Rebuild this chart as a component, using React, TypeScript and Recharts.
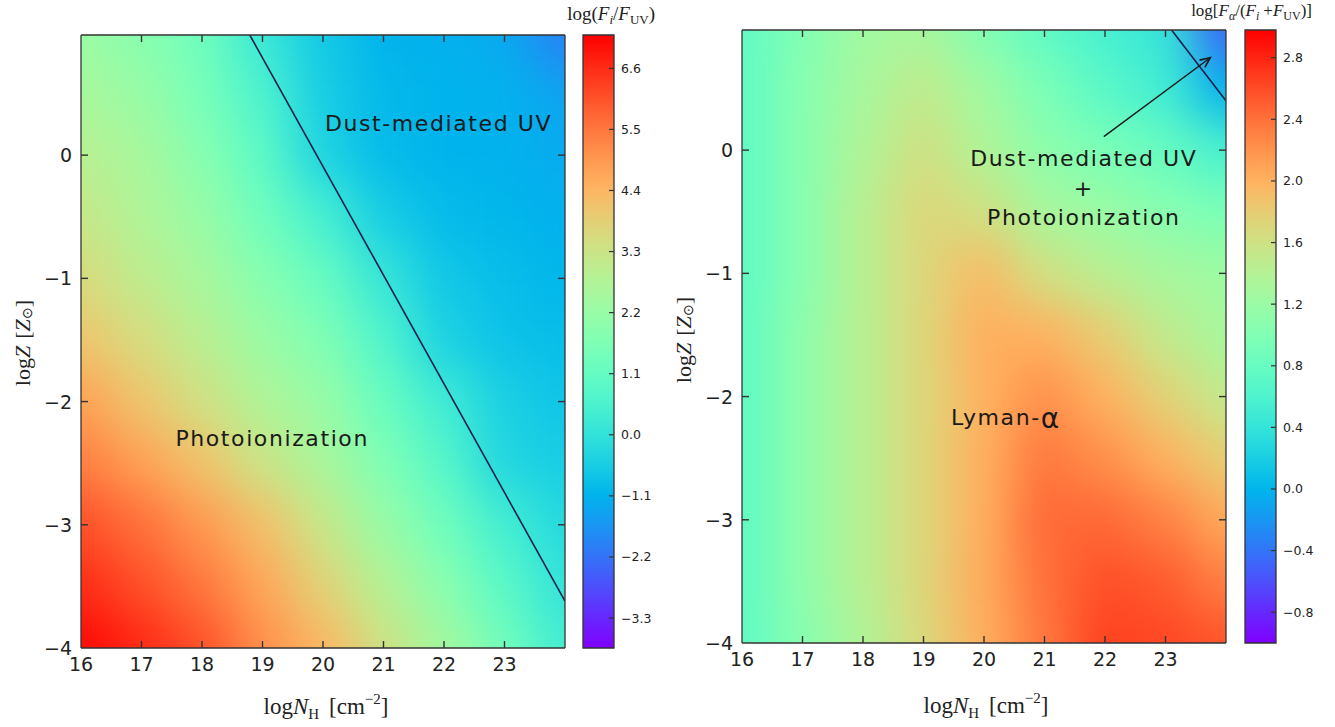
import React from "react";
import {
  ReferenceArea,
  ReferenceDot,
  ReferenceLine,
  Scatter,
  ScatterChart,
  XAxis,
  YAxis,
} from "recharts";

// grid nodes: log N_H columns, log Z rows (top row first)
const NH_NODES = [16, 17, 18, 19, 20, 21, 22, 23, 24];
const Z_NODES = [1, 0.5, 0, -0.5, -1, -1.5, -2, -2.5, -3, -3.5, -4];

// log(F_i / F_UV), one row per Z_NODES entry
const IONIZING_TO_UV = [
  [2.3, 1.85, 1.35, 0.15, -0.65, -1.1, -1.15, -1.3, -2.0],
  [2.56, 2.2, 1.5, 0.6, -0.55, -1.0, -1.1, -1.15, -1.4],
  [2.9, 2.56, 1.85, 0.95, -0.4, -0.95, -1.1, -1.12, -1.25],
  [3.23, 2.73, 2.2, 1.35, 0.45, -0.56, -0.95, -1.05, -1.15],
  [3.6, 3.06, 2.56, 1.85, 1.18, 0.1, -0.7, -0.9, -1.05],
  [4.1, 3.55, 2.95, 2.3, 1.7, 0.7, -0.45, -0.8, -0.9],
  [4.8, 4.1, 3.42, 2.73, 2.2, 1.2, 0.3, -0.5, -0.75],
  [5.4, 4.8, 4.15, 3.3, 2.6, 1.7, 0.8, -0.35, -0.55],
  [6.1, 5.6, 4.94, 4.2, 3.23, 2.2, 1.35, 0.4, -0.3],
  [6.6, 6.1, 5.5, 4.7, 3.8, 2.85, 1.9, 0.9, 0.0],
  [7.1, 6.65, 6.1, 5.1, 4.4, 3.4, 2.5, 1.4, 0.35],
];

// log[F_alpha / (F_i + F_UV)]
const LYA_TO_TOTAL = [
  [0.75, 1.0, 1.25, 1.3, 1.0, 0.74, 0.55, 0.4, -0.5],
  [0.74, 1.05, 1.3, 1.5, 1.25, 0.95, 0.7, 0.5, -0.05],
  [0.74, 1.05, 1.37, 1.62, 1.37, 1.1, 0.95, 0.8, 0.55],
  [0.74, 1.05, 1.43, 1.72, 1.62, 1.3, 1.2, 1.05, 0.95],
  [0.74, 1.05, 1.43, 1.72, 1.93, 1.62, 1.43, 1.3, 1.22],
  [0.74, 1.1, 1.43, 1.72, 2.02, 2.0, 1.8, 1.5, 1.3],
  [0.74, 1.1, 1.43, 1.72, 2.0, 2.22, 2.0, 1.75, 1.5],
  [0.74, 1.1, 1.43, 1.72, 2.02, 2.36, 2.22, 2.0, 1.78],
  [0.74, 1.1, 1.43, 1.72, 2.02, 2.44, 2.44, 2.3, 2.05],
  [0.74, 1.1, 1.43, 1.72, 2.05, 2.4, 2.58, 2.52, 2.3],
  [0.74, 1.05, 1.37, 1.7, 2.02, 2.36, 2.66, 2.62, 2.55],
];

const NH_DOMAIN = [16, 24];
const Z_DOMAIN = [-4, 0.975];
const NH_TICKS = [16, 17, 18, 19, 20, 21, 22, 23];
const Z_TICKS = [-4, -3, -2, -1, 0];

const CB_LEFT_RANGE = [-3.84, 7.2];
const CB_LEFT_TICKS = [-3.3, -2.2, -1.1, 0, 1.1, 2.2, 3.3, 4.4, 5.5, 6.6];
const CB_RIGHT_RANGE = [-1.0, 2.98];
const CB_RIGHT_TICKS = [-0.8, -0.4, 0, 0.4, 0.8, 1.2, 1.6, 2.0, 2.4, 2.8];

const BOUNDARY_LEFT = [{ x: 18.79, y: 0.975 }, { x: 24, y: -3.62 }];
const BOUNDARY_RIGHT = [{ x: 23.1, y: 0.975 }, { x: 24, y: 0.4 }];
const ARROW_RIGHT = [{ x: 21.98, y: 0.11 }, { x: 23.74, y: 0.75 }];

const NOTES_LEFT = [
  { x: 21.91, y: 0.26, text: "Dust-mediated UV" },
  { x: 19.16, y: -2.3, text: "Photoionization" },
];
const NOTES_RIGHT = [
  { x: 21.65, y: -0.065, text: "Dust-mediated UV" },
  { x: 21.65, y: -0.31, text: "+" },
  { x: 21.65, y: -0.55, text: "Photoionization" },
  { x: 20.35, y: -2.17, text: "Lyman-α" },
];

const PLOT_W = 484;
const PLOT_H = 613;
const CB_W = 31;
const FRAME = "#333";
const INK = "#1a1a1a";
const TICK_LEN = 7;
const TICK_GAP = 9;

// matplotlib "rainbow" colormap
const rainbow = (t: number) => {
  const c = Math.min(1, Math.max(0, t));
  const r = Math.min(1, Math.abs(2 * c - 0.5));
  const g = Math.sin(Math.PI * c);
  const b = Math.cos((Math.PI * c) / 2);
  const h = (u: number) =>
    Math.round(Math.max(0, Math.min(1, u)) * 255)
      .toString(16)
      .padStart(2, "0");
  return `#${h(r)}${h(g)}${h(b)}`;
};

const buildCells = (grid: number[][]) =>
  Z_NODES.flatMap((z, i) => NH_NODES.map((nh, j) => ({ nh, z, v: grid[i][j] })));

const minus = (s: string) => s.replace("-", "\u2212");

const pxX = PLOT_W / (NH_DOMAIN[1] - NH_DOMAIN[0]);
const pxZ = PLOT_H / (Z_DOMAIN[1] - Z_DOMAIN[0]);
const cellW = pxX;
const cellH = pxZ * 0.5;

// inward tick marks on all four sides, in data units
const tickSegments = () => {
  const dz = TICK_LEN / pxZ;
  const dx = TICK_LEN / pxX;
  const [x0, x1] = NH_DOMAIN;
  const [z0, z1] = Z_DOMAIN;
  return [
    ...NH_TICKS.slice(1).flatMap((t) => [
      [{ x: t, y: z0 }, { x: t, y: z0 + dz }],
      [{ x: t, y: z1 }, { x: t, y: z1 - dz }],
    ]),
    ...Z_TICKS.slice(1).flatMap((t) => [
      [{ x: x0, y: t }, { x: x0 + dx, y: t }],
      [{ x: x1, y: t }, { x: x1 - dx, y: t }],
    ]),
  ];
};

const heatShape = (range: number[]) => (p: any) => {
  const v = p.payload ? p.payload.v : p.v;
  return (
    <rect
      x={p.cx - cellW / 2 - 0.5}
      y={p.cy - cellH / 2 - 0.5}
      width={cellW + 1}
      height={cellH + 1}
      fill={rainbow((v - range[0]) / (range[1] - range[0]))}
    />
  );
};

const arrowShape = (p: any) => {
  const { x1, y1, x2, y2 } = p;
  const a = Math.atan2(y2 - y1, x2 - x1);
  const L = 11;
  const w = 0.42;
  const h1 = `${x2 - L * Math.cos(a - w)},${y2 - L * Math.sin(a - w)}`;
  const h2 = `${x2 - L * Math.cos(a + w)},${y2 - L * Math.sin(a + w)}`;
  return (
    <g>
      <line x1={x1} y1={y1} x2={x2} y2={y2} stroke={INK} strokeWidth={1.4} />
      <polyline points={`${h1} ${x2},${y2} ${h2}`} fill="none" stroke={INK} strokeWidth={1.6} />
    </g>
  );
};

function NoteText({ vb, text }: { vb: any; text: string }) {
  const cx = vb.x + (vb.width || 0) / 2;
  const cy = vb.y + (vb.height || 0) / 2;
  const greek = text.endsWith("α");
  return (
    <text
      x={cx}
      y={cy}
      textAnchor="middle"
      dominantBaseline="central"
      fontFamily="DejaVu Sans"
      fontSize={22}
      letterSpacing={1.6}
      fill={INK}
    >
      {greek ? text.slice(0, -1) : text}
      {greek && (
        <tspan fontSize={28} letterSpacing={0}>
          α
        </tspan>
      )}
    </text>
  );
}

const tickFont = { fill: "#222", fontSize: 19, fontFamily: "DejaVu Sans" };

const BottomTick = (p: any) => (
  <text x={p.x} y={p.y + 14} textAnchor="middle" {...tickFont}>
    {p.payload.value}
  </text>
);
const LeftTick = (p: any) => (
  <text x={p.x} y={p.y} textAnchor="end" dominantBaseline="central" {...tickFont}>
    {minus(String(p.payload.value))}
  </text>
);
const BarTick = (p: any) => (
  <text x={p.x} y={p.y} dominantBaseline="central" fill="#222" fontSize={12.5} fontFamily="DejaVu Sans">
    {minus(p.payload.value.toFixed(1))}
  </text>
);

// the four axes of one panel; "bare" keeps the layout but draws nothing
function panelAxes(bare: boolean) {
  const show = !bare;
  const common = {
    type: "number" as const,
    allowDataOverflow: true,
    interval: 0,
    tickLine: false,
    stroke: FRAME,
    strokeWidth: 1.3,
    axisLine: show,
  };
  return [
    <XAxis key="b" {...common} dataKey="nh" domain={NH_DOMAIN} ticks={NH_TICKS} height={60}
      tickSize={0} tickMargin={TICK_GAP} tick={show ? BottomTick : false} />,
    <XAxis key="t" {...common} xAxisId="top" orientation="top" dataKey="nh" domain={NH_DOMAIN}
      ticks={NH_TICKS} height={1} tickSize={0} tick={false} />,
    <YAxis key="l" {...common} dataKey="z" domain={Z_DOMAIN} ticks={Z_TICKS} width={60}
      tickSize={0} tickMargin={TICK_GAP} tick={show ? LeftTick : false} />,
    <YAxis key="r" {...common} yAxisId="right" orientation="right" dataKey="z" domain={Z_DOMAIN}
      ticks={Z_TICKS} width={1} tickSize={0} tick={false} />,
  ];
}

function HeatPanel({
  left,
  top,
  grid,
  range,
  boundary,
  arrow,
  notes,
}: {
  left: number;
  top: number;
  grid: number[][];
  range: number[];
  boundary: { x: number; y: number }[];
  arrow?: { x: number; y: number }[];
  notes: { x: number; y: number; text: string }[];
}) {
  const cells = buildCells(grid);
  const margin = { top: top - 1, right: 1, left: 21, bottom: 727 - top - PLOT_H - 60 };
  return (
    <>
      <div style={{ position: "absolute", left, top: 0 }}>
        <ScatterChart width={567} height={727} margin={margin}>
          <Scatter
            data={cells}
            className="heat-layer"
            shape={heatShape(range)}
            isAnimationActive={false}
          />
          {panelAxes(true)}
        </ScatterChart>
      </div>
      <div style={{ position: "absolute", left, top: 0 }}>
        <ScatterChart width={567} height={727} margin={margin}>
          <Scatter data={cells} shape={() => <g />} isAnimationActive={false} />
          {panelAxes(false)}
          {tickSegments().map((seg, i) => (
            <ReferenceLine key={`tk${i}`} segment={seg} stroke={FRAME} strokeWidth={1.4} ifOverflow="visible" />
          ))}
          <ReferenceLine
            segment={boundary}
            stroke="#15214a"
            strokeWidth={1.6}
            ifOverflow="hidden"
          />
          {arrow && <ReferenceLine segment={arrow} shape={arrowShape} ifOverflow="visible" />}
          {notes.map((n) => (
            <ReferenceDot
              key={n.text + n.y}
              x={n.x}
              y={n.y}
              r={1}
              fill="none"
              stroke="none"
              label={{ content: (p: any) => <NoteText vb={p.viewBox} text={n.text} /> }}
            />
          ))}
        </ScatterChart>
      </div>
    </>
  );
}

function ColorBar({
  left,
  top,
  range,
  ticks,
  gradId,
}: {
  left: number;
  top: number;
  range: number[];
  ticks: number[];
  gradId: string;
}) {
  const inset = 1 - 5 / CB_W;
  return (
    <div style={{ position: "absolute", left: left - 53, top: 0 }}>
      <ScatterChart
        width={140}
        height={727}
        margin={{ top, right: 7, left: 53, bottom: 727 - top - PLOT_H }}
      >
        <XAxis type="number" dataKey="u" domain={[0, 1]} allowDataOverflow hide />
        <YAxis
          orientation="right"
          type="number"
          dataKey="v"
          domain={range}
          allowDataOverflow
          ticks={ticks}
          interval={0}
          width={49}
          axisLine={false}
          tickSize={0}
          tickMargin={7}
          tickLine={false}
          tick={BarTick}
        />
        <Scatter data={[{ u: 0.5, v: range[0] }]} shape={() => <g />} isAnimationActive={false} />
        <ReferenceArea
          x1={0}
          x2={1}
          y1={range[0]}
          y2={range[1]}
          fill={`url(#${gradId})`}
          fillOpacity={1}
          stroke={FRAME}
          strokeWidth={1.3}
          ifOverflow="visible"
        />
        {ticks.map((t) => (
          <ReferenceLine
            key={t}
            segment={[{ x: inset, y: t }, { x: 1, y: t }]}
            stroke={FRAME}
            strokeWidth={1.2}
            ifOverflow="visible"
          />
        ))}
      </ScatterChart>
    </div>
  );
}

const STOPS = Array.from({ length: 21 }, (_, i) => i / 20);

export default function App() {
  const serif = "Liberation Serif";
  return (
    <div
      style={{
        position: "absolute",
        left: 0,
        top: 0,
        width: 1335,
        height: 727,
        background: "#fff",
        overflow: "hidden",
      }}
    >
      <style>{`.heat-layer { filter: url(#heatBlur); }`}</style>
      <svg width={0} height={0} style={{ position: "absolute" }}>
        <defs>
          <filter
            id="heatBlur"
            x="-20%"
            y="-20%"
            width="140%"
            height="140%"
            colorInterpolationFilters="sRGB"
          >
            <feGaussianBlur stdDeviation={23} />
            <feComponentTransfer>
              <feFuncA type="table" tableValues="1 1" />
            </feComponentTransfer>
          </filter>
          {["cbLeft", "cbRight"].map((id) => (
            <linearGradient key={id} id={id} x1="0" y1="1" x2="0" y2="0">
              {STOPS.map((s) => (
                <stop key={s} offset={s} stopColor={rainbow(s)} />
              ))}
            </linearGradient>
          ))}
        </defs>
      </svg>

      <HeatPanel
        left={0}
        top={35}
        grid={IONIZING_TO_UV}
        range={CB_LEFT_RANGE}
        boundary={BOUNDARY_LEFT}
        notes={NOTES_LEFT}
      />
      <ColorBar left={583} top={35} range={CB_LEFT_RANGE} ticks={CB_LEFT_TICKS} gradId="cbLeft" />

      <HeatPanel
        left={661}
        top={30}
        grid={LYA_TO_TOTAL}
        range={CB_RIGHT_RANGE}
        boundary={BOUNDARY_RIGHT}
        arrow={ARROW_RIGHT}
        notes={NOTES_RIGHT}
      />
      <ColorBar left={1245} top={30} range={CB_RIGHT_RANGE} ticks={CB_RIGHT_TICKS} gradId="cbRight" />

      <svg
        width={1335}
        height={727}
        style={{ position: "absolute", left: 0, top: 0, pointerEvents: "none" }}
      >
        <g fontFamily={serif} fill="#222">
          {[
            { cx: 326, cy: 714 },
            { cx: 986, cy: 713 },
          ].map((p) => (
            <text key={p.cx} x={p.cx} y={p.cy} textAnchor="middle" fontSize={23}>
              log<tspan fontStyle="italic">N</tspan>
              <tspan fontSize={15} dy={5}>H</tspan>
              <tspan dy={-5} dx={10}>[cm</tspan>
              <tspan fontSize={15} dy={-10}>{"\u22122"}</tspan>
              <tspan dy={10}>]</tspan>
            </text>
          ))}
          {[
            { cx: 22, cy: 343 },
            { cx: 683, cy: 340 },
          ].map((p) => (
            <text
              key={p.cx}
              x={p.cx}
              y={p.cy}
              transform={`rotate(-90 ${p.cx} ${p.cy})`}
              textAnchor="middle"
              dominantBaseline="central"
              fontSize={22}
            >
              log<tspan fontStyle="italic">Z</tspan>
              <tspan dx={7}>[</tspan>
              <tspan fontStyle="italic">Z</tspan>
              <tspan fontSize={14} dy={5}>{"\u2299"}</tspan>
              <tspan dy={-5}>]</tspan>
            </text>
          ))}
          <text x={655} y={20} textAnchor="end" fontSize={19}>
            log(<tspan fontStyle="italic">F</tspan>
            <tspan fontSize={13} dy={4} fontStyle="italic">i</tspan>
            <tspan dy={-4}>/</tspan>
            <tspan fontStyle="italic">F</tspan>
            <tspan fontSize={13} dy={4}>UV</tspan>
            <tspan dy={-4}>)</tspan>
          </text>
          <text x={1312} y={16} textAnchor="end" fontSize={17}>
            log[<tspan fontStyle="italic">F</tspan>
            <tspan fontSize={12} dy={4} fontStyle="italic">α</tspan>
            <tspan dy={-4}>/(</tspan>
            <tspan fontStyle="italic">F</tspan>
            <tspan fontSize={12} dy={4} fontStyle="italic">i</tspan>
            <tspan dy={-4} dx={4}>+</tspan>
            <tspan fontStyle="italic">F</tspan>
            <tspan fontSize={12} dy={4}>UV</tspan>
            <tspan dy={-4}>)]</tspan>
          </text>
        </g>
      </svg>
    </div>
  );
}
